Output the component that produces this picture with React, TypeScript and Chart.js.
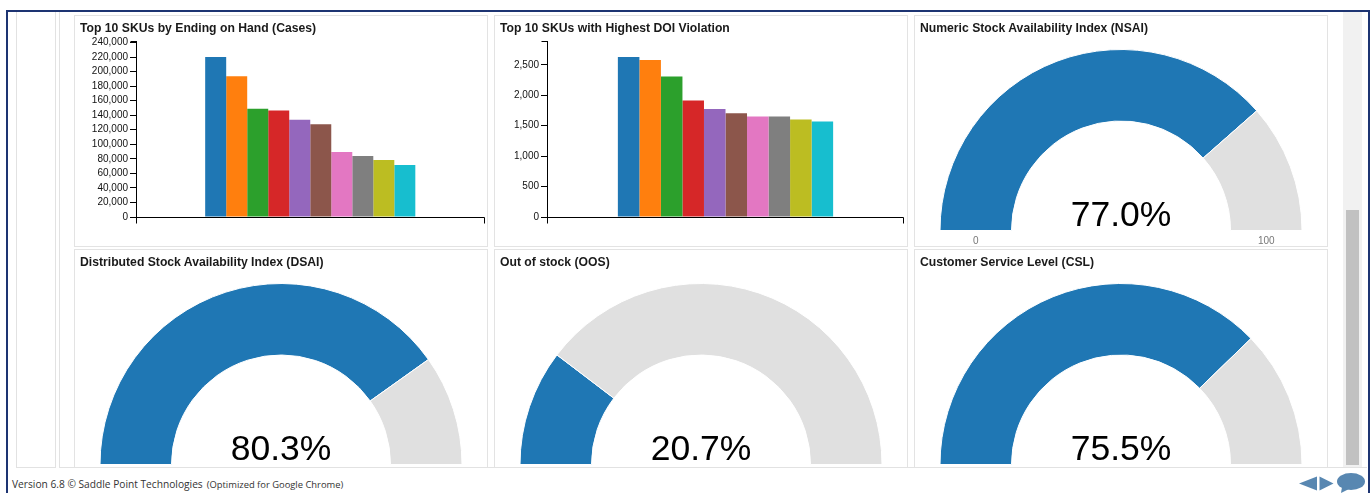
import React, { useEffect, useRef } from 'react';
import { Chart, registerables } from 'chart.js';

Chart.register(...registerables);

const FONT = "Arial, 'Liberation Sans', Helvetica, sans-serif";

// ---------- data ----------
const skuRanks = ['SKU 1', 'SKU 2', 'SKU 3', 'SKU 4', 'SKU 5', 'SKU 6', 'SKU 7', 'SKU 8', 'SKU 9', 'SKU 10'];
const endingOnHandCases = [220000, 193500, 148800, 146500, 133600, 127600, 89400, 83800, 78300, 71400];
const doiViolation = [2627, 2577, 2307, 1911, 1773, 1702, 1652, 1650, 1602, 1569];
const skuColors = ['#1f77b4', '#ff7f0e', '#2ca02c', '#d62728', '#9467bd', '#8c564b', '#e377c2', '#7f7f7f', '#bcbd22', '#17becf'];
const endingOnHandTicks = [0, 20000, 40000, 60000, 80000, 100000, 120000, 140000, 160000, 180000, 200000, 220000, 240000];
const endingOnHandMax = 242000;
const doiTicks = [0, 500, 1000, 1500, 2000, 2500];
const doiMax = 2890;

const gaugeTitles = [
  'Numeric Stock Availability Index (NSAI)',
  'Distributed Stock Availability Index (DSAI)',
  'Out of stock (OOS)',
  'Customer Service Level (CSL)',
];
const gaugeValues = [77.0, 80.3, 20.7, 75.5];
const gaugeMin = 0;
const gaugeMax = 100;

// ---------- plugins ----------
const d3AxisPlugin = {
  id: 'd3axis',
  afterDraw(chart: any) {
    const { ctx, chartArea: a } = chart;
    ctx.save();
    ctx.strokeStyle = '#000';
    ctx.lineWidth = 1;
    const l = Math.round(a.left) + 0.5;
    const r = Math.round(a.right) - 0.5;
    const b = Math.round(a.bottom) + 0.5;
    const t = Math.round(a.top) + 0.5;
    ctx.beginPath();
    ctx.moveTo(l, b + 6);
    ctx.lineTo(l, b);
    ctx.lineTo(r, b);
    ctx.lineTo(r, b + 6);
    ctx.moveTo(l - 6, t);
    ctx.lineTo(l, t);
    ctx.stroke();
    ctx.restore();
  },
};

function makeGaugePlugin(label: string) {
  return {
    id: 'gaugeText',
    afterDraw(chart: any) {
      const arc = chart.getDatasetMeta(0).data[0];
      if (!arc) return;
      const { x, y, innerRadius, outerRadius } = arc.getProps(['x', 'y', 'innerRadius', 'outerRadius'], true);
      const ctx = chart.ctx;
      ctx.save();
      ctx.textAlign = 'center';
      ctx.textBaseline = 'alphabetic';
      ctx.fillStyle = '#000';
      ctx.font = `35.5px ${FONT}`;
      ctx.fillText(label, x, y - 4.5);
      const mid = (innerRadius + outerRadius) / 2;
      ctx.fillStyle = '#777';
      ctx.font = `10px ${FONT}`;
      ctx.fillText(String(gaugeMin), x - mid, y + 13);
      ctx.fillText(String(gaugeMax), x + mid, y + 13);
      ctx.restore();
    },
  };
}

// ---------- components ----------
const CANVAS_W = 412;
const CANVAS_H = 230;

function BarCanvas(props: { values: number[]; yMax: number; yTicks: number[]; yAxisWidth: number; padRight: number }) {
  const ref = useRef<HTMLCanvasElement>(null);
  useEffect(() => {
    const { values, yMax, yTicks, yAxisWidth, padRight } = props;
    const chart = new Chart(ref.current as HTMLCanvasElement, {
      type: 'bar',
      data: {
        labels: [''],
        datasets: values.map((v, i) => ({
          label: skuRanks[i],
          data: [v],
          backgroundColor: skuColors[i],
          borderWidth: 0,
          barPercentage: 1,
          categoryPercentage: 0.603,
        })),
      },
      options: {
        responsive: false,
        animation: false,
        events: [],
        layout: { padding: { left: 0, right: padRight, top: 25, bottom: 29 } },
        plugins: { legend: { display: false }, tooltip: { enabled: false } },
        scales: {
          x: { display: false, offset: true, grid: { display: false } },
          y: {
            min: 0,
            max: yMax,
            afterFit: (s: any) => {
              s.width = yAxisWidth;
            },
            afterBuildTicks: (s: any) => {
              s.ticks = yTicks.map((v) => ({ value: v }));
            },
            grid: { drawOnChartArea: false, drawTicks: true, tickLength: 6, color: '#000', lineWidth: 1 },
            border: { display: true, color: '#000', width: 1 },
            ticks: {
              autoSkip: false,
              padding: 2,
              color: '#111',
              font: { family: FONT, size: 10 },
              callback: (v: any) => Number(v).toLocaleString('en-US'),
            },
          },
        },
      } as any,
      plugins: [d3AxisPlugin],
    });
    return () => chart.destroy();
  }, []);
  return (
    <canvas
      ref={ref}
      width={CANVAS_W}
      height={CANVAS_H}
      style={{ position: 'absolute', left: 0, top: 0, width: CANVAS_W, height: CANVAS_H }}
    />
  );
}

function GaugeCanvas(props: { value: number }) {
  const ref = useRef<HTMLCanvasElement>(null);
  useEffect(() => {
    const { value } = props;
    const chart = new Chart(ref.current as HTMLCanvasElement, {
      type: 'doughnut',
      data: {
        labels: ['Value', 'Remaining'],
        datasets: [
          {
            data: [value - gaugeMin, gaugeMax - value],
            backgroundColor: ['#1f77b4', '#e0e0e0'],
            borderColor: '#ffffff',
            borderWidth: 1,
          },
        ],
      },
      options: {
        responsive: false,
        animation: false,
        events: [],
        rotation: -90,
        circumference: 180,
        cutout: '60.5%',
        layout: { padding: { left: 24, right: 24, top: 33, bottom: 15 } },
        plugins: { legend: { display: false }, tooltip: { enabled: false } },
      } as any,
      plugins: [makeGaugePlugin(value.toFixed(1) + '%')],
    });
    return () => chart.destroy();
  }, []);
  return (
    <canvas
      ref={ref}
      width={CANVAS_W}
      height={CANVAS_H}
      style={{ position: 'absolute', left: 0, top: 0, width: CANVAS_W, height: CANVAS_H }}
    />
  );
}

function Panel(props: { left: number; top: number; title: string; children: React.ReactNode }) {
  return (
    <div
      style={{
        position: 'absolute',
        left: props.left,
        top: props.top,
        width: 414,
        height: 232,
        boxSizing: 'border-box',
        border: '1px solid #e3e3e3',
        background: '#fff',
      }}
    >
      {props.children}
      <div
        style={{
          position: 'absolute',
          left: 5,
          top: 5,
          font: `bold 12.2px ${FONT}`,
          lineHeight: '14px',
          color: '#1a1a1a',
          whiteSpace: 'nowrap',
        }}
      >
        {props.title}
      </div>
    </div>
  );
}

const CLIP_TOP = 12;

export default function App() {
  return (
    <div
      style={{
        position: 'fixed',
        left: 0,
        top: 0,
        width: 1370,
        height: 493,
        overflow: 'hidden',
        background: '#fff',
        fontFamily: FONT,
      }}
    >
      {/* navy frame */}
      <div
        style={{
          position: 'absolute',
          left: 6,
          top: 10,
          width: 1364,
          height: 540,
          boxSizing: 'border-box',
          border: '2px solid #1d3472',
        }}
      />
      {/* left narrow box */}
      <div
        style={{
          position: 'absolute',
          left: 16,
          top: 12,
          width: 40,
          height: 456,
          boxSizing: 'border-box',
          borderLeft: '1px solid #e2e2e2',
          borderRight: '1px solid #e2e2e2',
          borderBottom: '1px solid #e2e2e2',
        }}
      />
      {/* content box outline */}
      <div
        style={{
          position: 'absolute',
          left: 59,
          top: 12,
          width: 1308,
          height: 456,
          boxSizing: 'border-box',
          borderLeft: '1px solid #e2e2e2',
          borderBottom: '1px solid #e2e2e2',
        }}
      />
      {/* scroll clip area */}
      <div
        style={{
          position: 'absolute',
          left: 0,
          top: CLIP_TOP,
          width: 1343,
          height: 455,
          overflow: 'hidden',
        }}
      >
        <Panel left={74} top={15 - CLIP_TOP} title="Top 10 SKUs by Ending on Hand (Cases)">
          <BarCanvas values={endingOnHandCases} yMax={endingOnHandMax} yTicks={endingOnHandTicks} yAxisWidth={61} padRight={2.5} />
        </Panel>
        <Panel left={494} top={15 - CLIP_TOP} title="Top 10 SKUs with Highest DOI Violation">
          <BarCanvas values={doiViolation} yMax={doiMax} yTicks={doiTicks} yAxisWidth={52} padRight={3} />
        </Panel>
        <Panel left={914} top={15 - CLIP_TOP} title={gaugeTitles[0]}>
          <GaugeCanvas value={gaugeValues[0]} />
        </Panel>
        <Panel left={74} top={249 - CLIP_TOP} title={gaugeTitles[1]}>
          <GaugeCanvas value={gaugeValues[1]} />
        </Panel>
        <Panel left={494} top={249 - CLIP_TOP} title={gaugeTitles[2]}>
          <GaugeCanvas value={gaugeValues[2]} />
        </Panel>
        <Panel left={914} top={249 - CLIP_TOP} title={gaugeTitles[3]}>
          <GaugeCanvas value={gaugeValues[3]} />
        </Panel>
      </div>
      {/* scrollbar */}
      <div style={{ position: 'absolute', left: 1343, top: 12, width: 19, height: 455, background: '#f1f1f1' }} />
      <div style={{ position: 'absolute', left: 1346, top: 210, width: 13, height: 255, background: '#c1c1c1' }} />
      {/* footer */}
      <div
        style={{
          position: 'absolute',
          left: 12,
          top: 478,
          fontFamily: "'Open Sans', 'Noto Sans', sans-serif",
          fontSize: 10.2,
          lineHeight: '12px',
          color: '#333',
          whiteSpace: 'nowrap',
        }}
      >
        Version 6.8 © Saddle Point Technologies
        <span style={{ fontSize: 9.4, marginLeft: 4 }}>(Optimized for Google Chrome)</span>
      </div>
      {/* navigation icons */}
      <svg
        width={72}
        height={23}
        style={{ position: 'absolute', left: 1296, top: 470 }}
        viewBox="0 0 72 23"
      >
        <polygon points="3,13.5 21,6.5 21,20.5" fill="#5887b1" />
        <polygon points="23.5,6.5 37.5,13.5 23.5,20.5" fill="#5887b1" />
        <ellipse cx={55} cy={11.5} rx={14} ry={8.5} fill="#5887b1" />
        <polygon points="46,17 45,23 53,19" fill="#5887b1" />
      </svg>
    </div>
  );
}
